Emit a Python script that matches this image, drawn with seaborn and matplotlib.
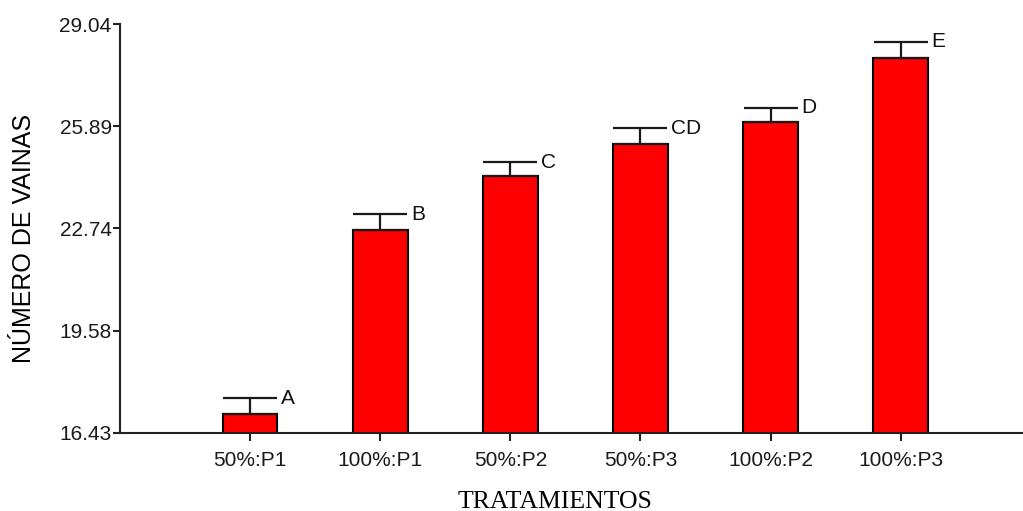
import matplotlib
matplotlib.use("Agg")
import matplotlib.pyplot as plt
import seaborn as sns
import pandas as pd
import numpy as np

categories = ["50%:P1", "100%:P1", "50%:P2", "50%:P3", "100%:P2", "100%:P3"]
means = [17.00, 22.69, 24.35, 25.33, 26.01, 27.99]
errors = [0.49, 0.48, 0.42, 0.50, 0.44, 0.50]
letters = ["A", "B", "C", "CD", "D", "E"]
yticks = [16.43, 19.58, 22.74, 25.89, 29.04]
ytick_labels = ["16.43", "19.58", "22.74", "25.89", "29.04"]

sns.set_theme(style="ticks")
plt.rcParams["font.family"] = ["Liberation Sans", "DejaVu Sans"]

df = pd.DataFrame({"tratamiento": categories, "vainas": means})

fig = plt.figure(figsize=(10.23, 5.11), dpi=100)
ax = fig.add_axes([120 / 1023, 1 - 432.7 / 511, 1 - 120 / 1023, (432.7 - 24) / 511])

bw = 0.42
sns.barplot(data=df, x="tratamiento", y="vainas", order=categories,
            color="#FF0000", saturation=1, width=bw, errorbar=None,
            edgecolor="black", linewidth=1.5, ax=ax, zorder=2)

xpos = np.arange(len(categories))
ax.errorbar(xpos, means, yerr=[np.zeros(len(errors)), errors], fmt="none",
            ecolor="#1a1a1a", elinewidth=1.6, capsize=19.5, capthick=1.6, zorder=3)

for x, m, e, lab in zip(xpos, means, errors, letters):
    ax.text(x + bw / 2 + 0.025, m + e, lab, ha="left", va="center",
            fontsize=15, color="#111111")

ax.set_xlim(-1.0, 5.94)
ax.set_ylim(16.43, 29.04)
ax.set_yticks(yticks)
ax.set_yticklabels(ytick_labels)

for s in ["top", "right"]:
    ax.spines[s].set_visible(False)
for s in ["left", "bottom"]:
    ax.spines[s].set_color("#222222")
    ax.spines[s].set_linewidth(1.5)

ax.tick_params(axis="y", direction="out", length=5, width=1.5, color="#222222",
               labelsize=15, labelcolor="#1a1a1a", pad=1)
ax.tick_params(axis="x", direction="out", length=6, width=1.5, color="#222222",
               labelsize=15, labelcolor="#1a1a1a", pad=7)

ax.set_xlabel("TRATAMIENTOS", family=["Liberation Serif", "DejaVu Serif"],
              fontsize=18.5, color="black")
ax.xaxis.set_label_coords((555 - 120) / 903, -(502 - 432.7) / 408.7)
ax.xaxis.label.set_va("center")
ax.set_ylabel("NÚMERO DE VAINAS", fontsize=18, color="black")
ax.yaxis.set_label_coords(-(120 - 24) / 903, (432.7 - 238) / 408.7)
ax.yaxis.label.set_va("center")

fig.savefig("out.png", dpi=100, facecolor="white")
